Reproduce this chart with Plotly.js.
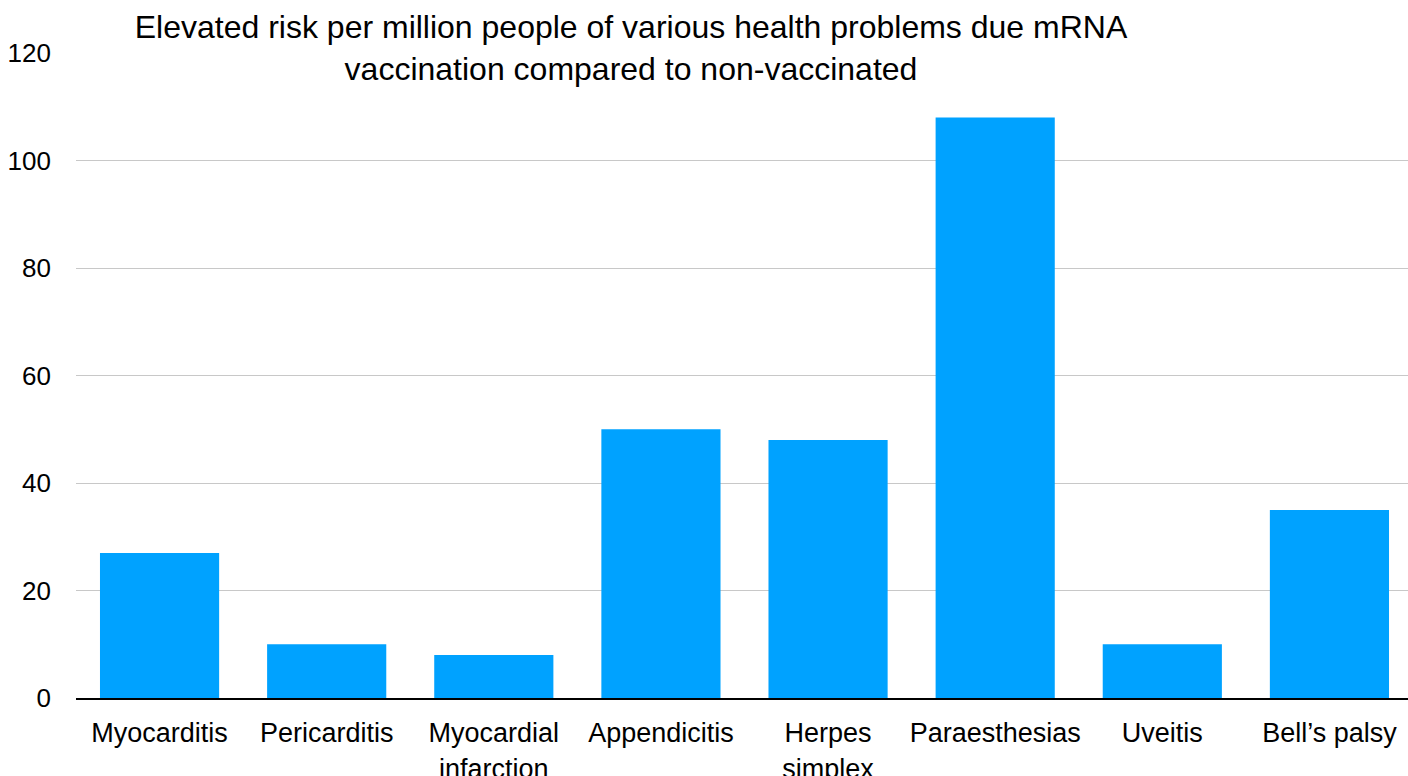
<!DOCTYPE html>
<html>
<head>
<meta charset="utf-8">
<script src="https://cdn.plot.ly/plotly-3.0.1.min.js"></script>
<style>
html, body { margin: 0; padding: 0; overflow: hidden; background: #fff; }
#chart { width: 1413px; height: 776px; }
</style>
</head>
<body>
<div id="chart"></div>
<script>
const categories = ["Myocarditis", "Pericarditis", "Myocardial<br>infarction", "Appendicitis", "Herpes<br>simplex", "Paraesthesias", "Uveitis", "Bell\u2019s palsy"];
const values = [27, 10, 8, 50, 48, 108, 10, 35];
const titleText = "Elevated risk per million people of various health problems due mRNA<br>vaccination compared to non-vaccinated";

const font = "'Liberation Sans', Arial, Helvetica, sans-serif";

Plotly.newPlot("chart", [{
  type: "bar",
  x: categories,
  y: values,
  marker: { color: "#00A2FF" },
  hoverinfo: "x+y"
}], {
  width: 1413,
  height: 776,
  margin: { l: 76, r: 0, t: 53, b: 78, pad: 0 },
  paper_bgcolor: "#ffffff",
  plot_bgcolor: "#ffffff",
  bargap: 0.287,
  showlegend: false,
  font: { family: font, color: "#000000", size: 26 },
  title: {
    text: titleText,
    font: { family: font, size: 32, color: "#000000" },
    xref: "container", yref: "container",
    x: 631 / 1413, xanchor: "center",
    y: 1 - 38 / 776, yanchor: "top"
  },
  xaxis: {
    type: "category",
    showline: true, linecolor: "#000000", linewidth: 2,
    showgrid: false, ticks: "",
    ticklabelstandoff: 10,
    tickfont: { family: font, size: 27, color: "#000000" },
    fixedrange: true
  },
  yaxis: {
    range: [0, 120], dtick: 20, tick0: 0,
    showgrid: true, gridcolor: "#c8c8c8", gridwidth: 1,
    zeroline: false, showline: false, ticks: "",
    ticklabelstandoff: 24,
    tickfont: { family: font, size: 26, color: "#000000" },
    fixedrange: true
  }
}, { displayModeBar: false, staticPlot: true });
</script>
</body>
</html>
